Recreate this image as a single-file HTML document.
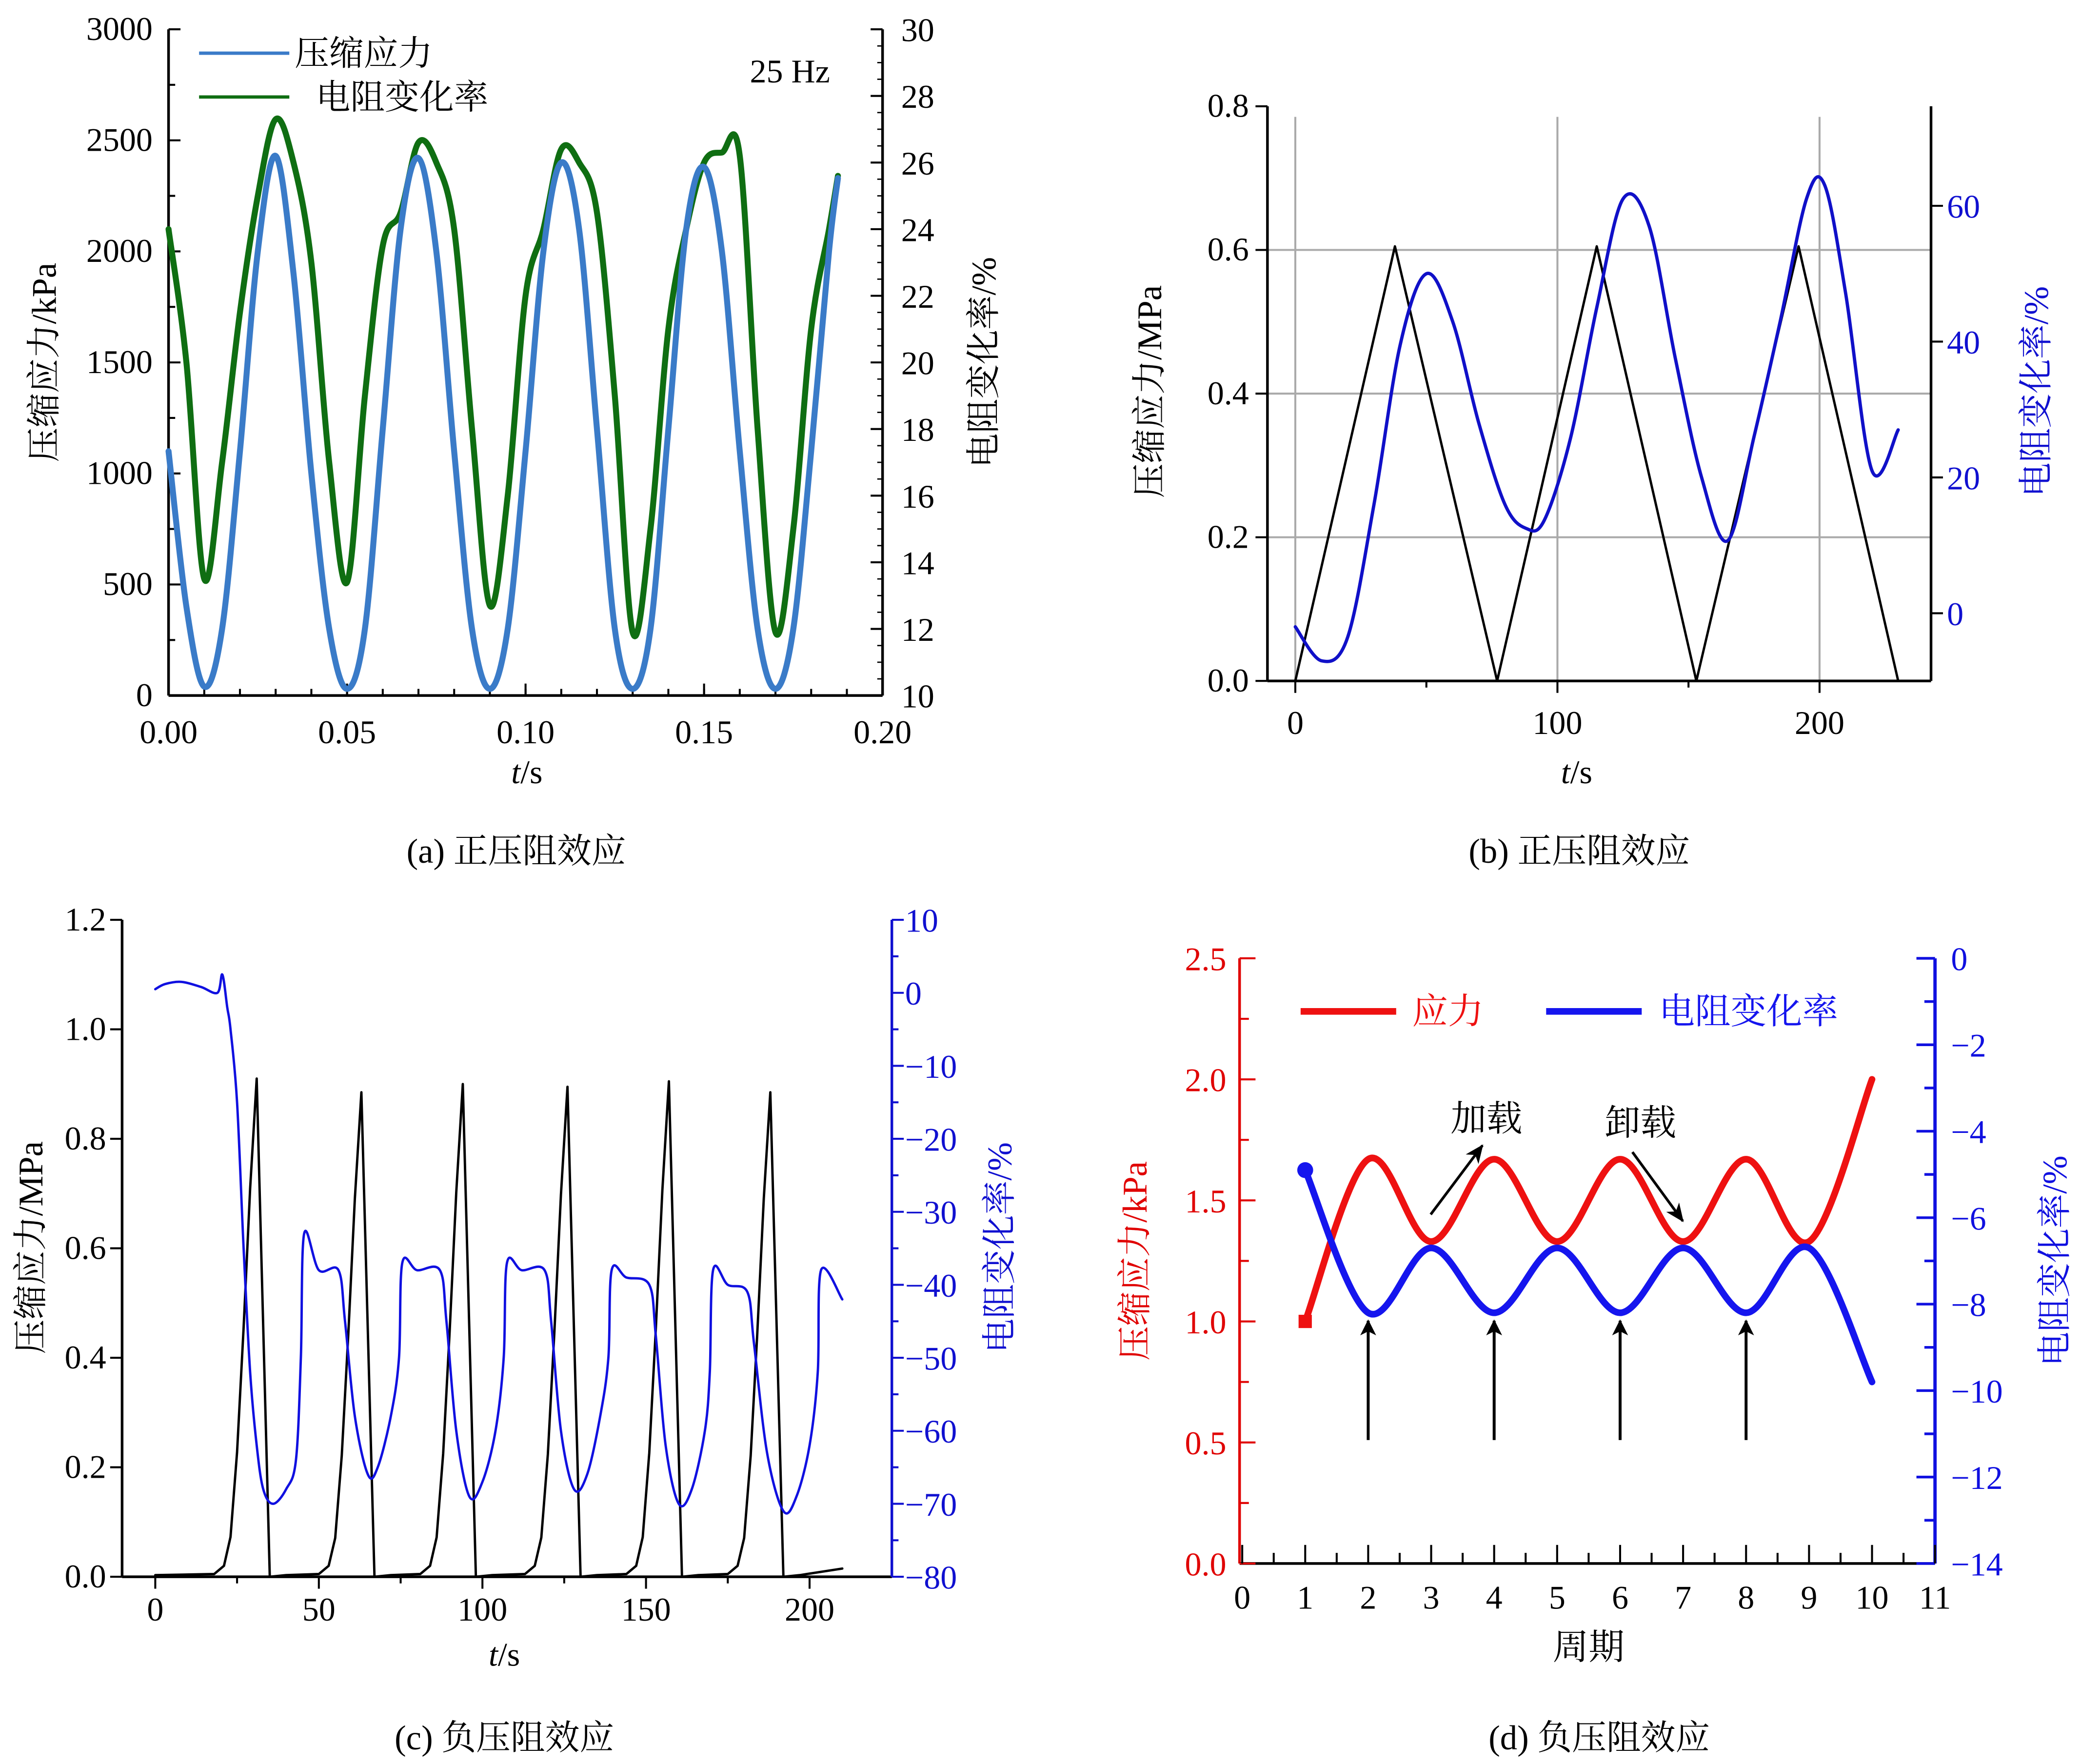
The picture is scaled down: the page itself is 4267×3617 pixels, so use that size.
<!DOCTYPE html>
<html><head><meta charset="utf-8"><style>
html,body{margin:0;padding:0;background:#fff;}
svg{display:block;font-family:"Liberation Serif","Noto Serif CJK SC",serif;}
</style></head>
<body>
<svg id="s" width="4267" height="3617" viewBox="0 0 1568 1329" xmlns="http://www.w3.org/2000/svg" font-family="'Liberation Serif','Noto Serif CJK SC',serif"></svg>
<script>
// ---------- Data ----------
// (a)
const aTime=[0,0.005,0.01,0.015,0.02,0.025,0.03,0.035,0.04,0.045,0.05,0.055,0.06,0.065,0.07,0.075,0.08,0.085,0.09,0.095,0.10,0.105,0.11,0.115,0.12,0.125,0.13,0.135,0.14,0.145,0.15,0.155,0.16,0.165,0.17,0.175,0.18,0.185,0.1875];
const aStress=[1100,400,40,300,1100,2000,2430,1900,1000,300,30,300,1200,2100,2420,2000,1100,300,30,300,1100,2000,2400,2100,1200,300,30,300,1200,2100,2380,2000,1100,300,30,300,1100,2000,2330];
const aResist=[24,20,13.5,17,21.5,25,27.3,26,23,17,13.4,19,23.5,24.5,26.6,26,24,18,12.7,16,22,24,26.4,26,24.5,19,11.9,15,21,24,26,26.3,26.2,18,11.9,15,21,24,25.6];
const aLeftTicks=[0,500,1000,1500,2000,2500,3000];
const aRightTicks=[10,12,14,16,18,20,22,24,26,28,30];
const aXTicks=[0,0.05,0.10,0.15,0.20];
// (b)
const bTriT=[0,38,77,115,153,192,230];
const bTriV=[0,0.605,0,0.605,0,0.605,0];
const bResT=[0,10,20,30,40,50,60,70,80,88,95,105,115,125,135,145,155,165,175,185,195,202,210,220,230];
const bResV=[-2,-7,-3.5,16,39.5,50,43,28,16,12.5,13.7,25.8,45,61,57,37.5,20,10.7,26,43,61,63,47,21,27];
const bLeftTicks=[0,0.2,0.4,0.6,0.8];
const bRightTicks=[0,20,40,60];
const bXTicks=[0,100,200];
// (c)
const cPeakT=[31,63,94,126,157,188];
const cPeakV=[0.91,0.885,0.90,0.895,0.905,0.885];
const cResT=[0,3,8,14,19,20.5,22,23,25,27,29,31,33,36,40,43,44.5,45.5,50,56,58,61,65,68,72,74.5,75.5,80,87,89,92,96,100,104,106.5,107.5,112,119,121,124,128,132,136,138.5,139.5,144,151,153,156,160,164,168,169.5,170.5,175,181,183,187,192,196,200,202.5,203.5,210];
const cResV=[0.5,1.2,1.5,0.8,0,2.5,-2,-5,-15,-35,-52,-62,-68,-70,-68,-64,-50,-33,-38,-38,-45,-58,-66,-65,-58,-50,-37,-38,-38,-45,-60,-69,-67,-60,-50,-37,-38,-38,-45,-60,-68,-66,-58,-50,-38,-39,-40,-47,-62,-70,-68,-60,-52,-38,-40,-41,-48,-63,-71,-69,-62,-52,-38,-42];
const cLeftTicks=[0,0.2,0.4,0.6,0.8,1.0,1.2];
const cRightTicks=[10,0,-10,-20,-30,-40,-50,-60,-70,-80];
const cXTicks=[0,50,100,150,200];
// (d)
const dCycle=[1,2,3,4,5,6,7,8,9,10];
const dStress=[1.0,1.67,1.33,1.67,1.33,1.67,1.33,1.67,1.33,2.0];
const dResist=[-4.9,-8.2,-6.7,-8.2,-6.7,-8.2,-6.7,-8.2,-6.7,-9.8];
const dArrowX=[2,4,6,8];
const dLeftTicks=[0,0.5,1.0,1.5,2.0,2.5];
const dRightTicks=[0,-2,-4,-6,-8,-10,-12,-14];
const dXTicks=[0,1,2,3,4,5,6,7,8,9,10,11];

// ---------- Helpers ----------
const NS="http://www.w3.org/2000/svg", S=document.getElementById('s');
const FF="Liberation Serif, Noto Serif CJK SC, serif";
function el(tag,attrs,parent,txt){const e=document.createElementNS(NS,tag);for(const k in attrs)e.setAttribute(k,attrs[k]);if(txt!==undefined)e.textContent=txt;(parent||S).appendChild(e);return e;}
function lin(d0,d1,r0,r1){return v=>r0+(v-d0)*(r1-r0)/(d1-d0);}
function smooth(pts){let d='M'+pts[0][0]+','+pts[0][1];for(let i=0;i<pts.length-1;i++){const p0=pts[Math.max(0,i-1)],p1=pts[i],p2=pts[i+1],p3=pts[Math.min(pts.length-1,i+2)];const c1=[p1[0]+(p2[0]-p0[0])/6,p1[1]+(p2[1]-p0[1])/6],c2=[p2[0]-(p3[0]-p1[0])/6,p2[1]-(p3[1]-p1[1])/6];d+=' C'+c1+' '+c2+' '+p2;}return d;}
function polyd(pts){return 'M'+pts.map(p=>p.join(',')).join(' L');}
function txt(x,y,s,o,name){const t=el('text',Object.assign({x:x,y:y,'font-size':25,fill:'#000','font-family':FF},o||{}),S,s);return t;}
function line(x1,y1,x2,y2,c,w,name){const l=el('line',{x1:x1,y1:y1,x2:x2,y2:y2,stroke:c||'#000','stroke-width':w||1.5});return l;}
function path(d,c,w,name){const p=el('path',{d:d,fill:'none',stroke:c,'stroke-width':w,'stroke-linejoin':'round','stroke-linecap':'round'});return p;}
function fmt(v,dec){return v<0?'\u2212'+Math.abs(v).toFixed(dec):v.toFixed(dec);}

// ---------- Panel (a) ----------
(function(){
const L=127,R=665,T=22,B=524;
const x=lin(0,0.2,L,R), yl=lin(0,3000,B,T), yr=lin(10,30,B,T);
line(L,T,L,B,'#000',2,'a-left-axis');line(L,B,R,B,'#000',2,'a-x-axis');line(R,T,R,B,'#000',2,'a-right-axis');
aLeftTicks.forEach(v=>{line(L,yl(v),L+9,yl(v));txt(L-12,yl(v)+8,String(v),{'text-anchor':'end'},'a-left-tick-label');});
for(let v=250;v<3000;v+=500)line(L,yl(v),L+5,yl(v));
aRightTicks.forEach(v=>{line(R,yr(v),R-9,yr(v));txt(R+14,yr(v)+9,String(v),{},'a-right-tick-label');});
for(let v=10;v<30;v+=0.5)line(R,yr(v),R-4,yr(v),'#000',1);
aXTicks.forEach(v=>{line(x(v),B,x(v),B-9);txt(x(v),B+36,v.toFixed(2),{'text-anchor':'middle'},'a-x-tick-label');});
for(let v=0.01;v<0.2;v+=0.01)line(x(v),B,x(v),B-5);
path(smooth(aTime.map((t,i)=>[x(t),yr(aResist[i])])),'#0f6e12',4.5,'a-resistance-line');
path(smooth(aTime.map((t,i)=>[x(t),yl(aStress[i])])),'#3a7bc8',4.5,'a-stress-line');
line(150,40,218,40,'#3a7bc8',2.5,'a-legend-stress-swatch');txt(222,49,'压缩应力',{'font-size':26},'a-legend-stress');
line(150,73,218,73,'#0f6e12',2.5,'a-legend-resist-swatch');txt(238,82,'电阻变化率',{'font-size':26},'a-legend-resist');
txt(565,62,'25 Hz',{},'a-frequency-label');
txt(42,273,'压缩应力/kPa',{'text-anchor':'middle','font-size':26,transform:'rotate(-90 42 273)'},'a-y-title');
txt(750,273,'电阻变化率/%',{'text-anchor':'middle','font-size':26,transform:'rotate(-90 750 273)'},'a-y2-title');
const xt=txt(397,590,'',{'text-anchor':'middle'},'a-x-title');el('tspan',{'font-style':'italic'},xt,'t');el('tspan',{},xt,'/s');
txt(389,650,'(a) 正压阻效应',{'text-anchor':'middle','font-size':26},'a-caption');
})();

// ---------- Panel (b) ----------
(function(){
const L=955,R=1455,T=80,B=513;
const x=lin(0,200,976,1371), yl=lin(0,0.8,B,T), yr=lin(0,60,462,155);
[0,100,200].forEach(v=>line(x(v),88,x(v),B,'#aaa',1.5,'b-grid-x'));
[0.2,0.4,0.6].forEach(v=>line(L,yl(v),R,yl(v),'#aaa',1.5,'b-grid-y'));
line(L,T,L,B,'#000',2,'b-left-axis');line(L,B,R,B,'#000',2,'b-x-axis');line(R,T,R,B,'#000',2,'b-right-axis');
bLeftTicks.forEach(v=>{line(L,yl(v),L-9,yl(v));txt(L-14,yl(v)+8,v.toFixed(1),{'text-anchor':'end'},'b-left-tick-label');});
bRightTicks.forEach(v=>{line(R,yr(v),R+9,yr(v));txt(R+12,yr(v)+9,String(v),{fill:'#1010d0'},'b-right-tick-label');});
bXTicks.forEach(v=>{line(x(v),B,x(v),B+9);txt(x(v),B+40,String(v),{'text-anchor':'middle'},'b-x-tick-label');});
[50,150].forEach(v=>line(x(v),B,x(v),B+5));
path(polyd(bTriT.map((t,i)=>[x(t),yl(bTriV[i])])),'#000',1.8,'b-stress-line');
path(smooth(bResT.map((t,i)=>[x(t),yr(bResV[i])])),'#1010c8',2.5,'b-resistance-line');
txt(875,295,'压缩应力/MPa',{'text-anchor':'middle','font-size':26,transform:'rotate(-90 875 295)'},'b-y-title');
txt(1543,295,'电阻变化率/%',{'text-anchor':'middle','font-size':26,fill:'#1010d0',transform:'rotate(-90 1543 295)'},'b-y2-title');
const xt=txt(1188,590,'',{'text-anchor':'middle'},'b-x-title');el('tspan',{'font-style':'italic'},xt,'t');el('tspan',{},xt,'/s');
txt(1190,650,'(b) 正压阻效应',{'text-anchor':'middle','font-size':26},'b-caption');
})();

// ---------- Panel (c) ----------
(function(){
const L=92,R=672,T=693,B=1188;
const x=lin(0,200,117,610), yl=lin(0,1.2,B,T), yr=lin(10,-80,T,B);
line(L,T,L,B,'#000',2,'c-left-axis');line(L,B,R,B,'#000',2,'c-x-axis');line(R,T,R,B,'#1010d0',2,'c-right-axis');
cLeftTicks.forEach(v=>{line(L,yl(v),L-9,yl(v));txt(L-12,yl(v)+8,v.toFixed(1),{'text-anchor':'end'},'c-left-tick-label');});
cRightTicks.forEach(v=>{line(R,yr(v),R+9,yr(v),'#1010d0');txt(R+10,yr(v)+9,fmt(v,0),{fill:'#1010d0'},'c-right-tick-label');});
for(let v=5;v>-80;v-=10)line(R,yr(v),R+5,yr(v),'#1010d0');
cXTicks.forEach(v=>{line(x(v),B,x(v),B+9);txt(x(v),B+33,String(v),{'text-anchor':'middle'},'c-x-tick-label');});
for(let v=25;v<210;v+=50)line(x(v),B,x(v),B+5);
let pts=[[x(0),yl(0.003)]];
cPeakT.forEach((p,i)=>{const h=cPeakV[i];const s=p-13;
 pts.push([x(s),yl(0.005)],[x(s+3),yl(0.02)],[x(s+5),yl(h*0.08)],[x(s+7),yl(h*0.25)],[x(s+9),yl(h*0.5)],[x(s+11),yl(h*0.78)],[x(p),yl(h)],[x(p+2),yl(h*0.5)],[x(p+4),yl(0)],[x(p+9),yl(0.003)]);});
pts.push([x(210),yl(0.015)]);
path(polyd(pts),'#000',1.8,'c-stress-line');
path(smooth(cResT.map((t,i)=>[x(t),yr(cResV[i])])),'#1010e0',1.8,'c-resistance-line');
txt(32,940,'压缩应力/MPa',{'text-anchor':'middle','font-size':26,transform:'rotate(-90 32 940)'},'c-y-title');
txt(762,940,'电阻变化率/%',{'text-anchor':'middle','font-size':26,fill:'#1010d0',transform:'rotate(-90 762 940)'},'c-y2-title');
const xt=txt(380,1255,'',{'text-anchor':'middle'},'c-x-title');el('tspan',{'font-style':'italic'},xt,'t');el('tspan',{},xt,'/s');
txt(380,1318,'(c) 负压阻效应',{'text-anchor':'middle','font-size':26},'c-caption');
})();

// ---------- Panel (d) ----------
(function(){
const L=934,R=1458,T=722,B=1178;
const x=lin(0,11,936,1458), yl=lin(0,2.5,B,T), yr=lin(0,-14,T,B);
line(L,T,L,B,'#e00000',2,'d-left-axis');line(L,B,R,B,'#000',2,'d-x-axis');line(R,T,R,B,'#1010e0',2.5,'d-right-axis');
dLeftTicks.forEach(v=>{line(L,yl(v),L+12,yl(v),'#e00000');txt(L-10,yl(v)+9,v.toFixed(1),{'text-anchor':'end',fill:'#e00000'},'d-left-tick-label');});
for(let v=0.25;v<2.5;v+=0.5)line(L,yl(v),L+7,yl(v),'#e00000');
dRightTicks.forEach(v=>{line(R,yr(v),R-14,yr(v),'#1010e0',2);txt(R+12,yr(v)+9,fmt(v,0),{fill:'#1010e0'},'d-right-tick-label');});
for(let v=-1;v>-14;v-=2)line(R,yr(v),R-8,yr(v),'#1010e0',2);
dXTicks.forEach(v=>{line(x(v),B,x(v),B-14);txt(x(v),B+34,String(v),{'text-anchor':'middle'},'d-x-tick-label');});
for(let v=0.5;v<11;v+=1)line(x(v),B,x(v),B-8);
path(smooth(dCycle.map((c,i)=>[x(c),yl(dStress[i])])),'#ee1111',5,'d-stress-line');
path(smooth(dCycle.map((c,i)=>[x(c),yr(dResist[i])])),'#1515ee',5,'d-resistance-line');
const sq=el('rect',{x:x(1)-5,y:yl(1)-5,width:10,height:10,fill:'#ee1111'});
const ci=el('circle',{cx:x(1),cy:yr(-4.9),r:6,fill:'#1515ee'});
el('defs',{},S).innerHTML='<marker id="ah" markerWidth="12" markerHeight="14" refX="11" refY="6" orient="auto" markerUnits="userSpaceOnUse"><path d="M0,0 L12,6 L0,12 L3,6 Z" fill="#000"/></marker><marker id="ah2" markerWidth="14" markerHeight="14" refX="13" refY="7" orient="auto" markerUnits="userSpaceOnUse"><path d="M0,1 L14,7 L0,13 L4,7 Z" fill="#000"/></marker>';
dArrowX.forEach(c=>{const a=line(x(c),1085,x(c),yr(dResist[dCycle.indexOf(c)])+6,'#000',2.2,'d-minimum-arrow');a.setAttribute('marker-end','url(#ah)');});
line(1078,915,1117,863,'#000',2,'d-loading-arrow').setAttribute('marker-end','url(#ah2)');
line(1230,868,1268,920,'#000',2,'d-unloading-arrow').setAttribute('marker-end','url(#ah2)');
txt(1120,852,'加载',{'text-anchor':'middle','font-size':27},'d-loading-label');
txt(1236,855,'卸载',{'text-anchor':'middle','font-size':27},'d-unloading-label');
line(980,762,1052,762,'#ee1111',5,'d-legend-stress-swatch');txt(1064,771,'应力',{fill:'#ee1111','font-size':27},'d-legend-stress');
line(1165,762,1237,762,'#1515ee',5,'d-legend-resist-swatch');txt(1250,771,'电阻变化率',{fill:'#1515ee','font-size':27},'d-legend-resist');
txt(864,950,'压缩应力/kPa',{'text-anchor':'middle','font-size':26,fill:'#e00000',transform:'rotate(-90 864 950)'},'d-y-title');
txt(1557,950,'电阻变化率/%',{'text-anchor':'middle','font-size':26,fill:'#1010e0',transform:'rotate(-90 1557 950)'},'d-y2-title');
txt(1197,1250,'周期',{'text-anchor':'middle','font-size':27},'d-x-title');
txt(1205,1318,'(d) 负压阻效应',{'text-anchor':'middle','font-size':26},'d-caption');
})();
</script>
</body></html>
